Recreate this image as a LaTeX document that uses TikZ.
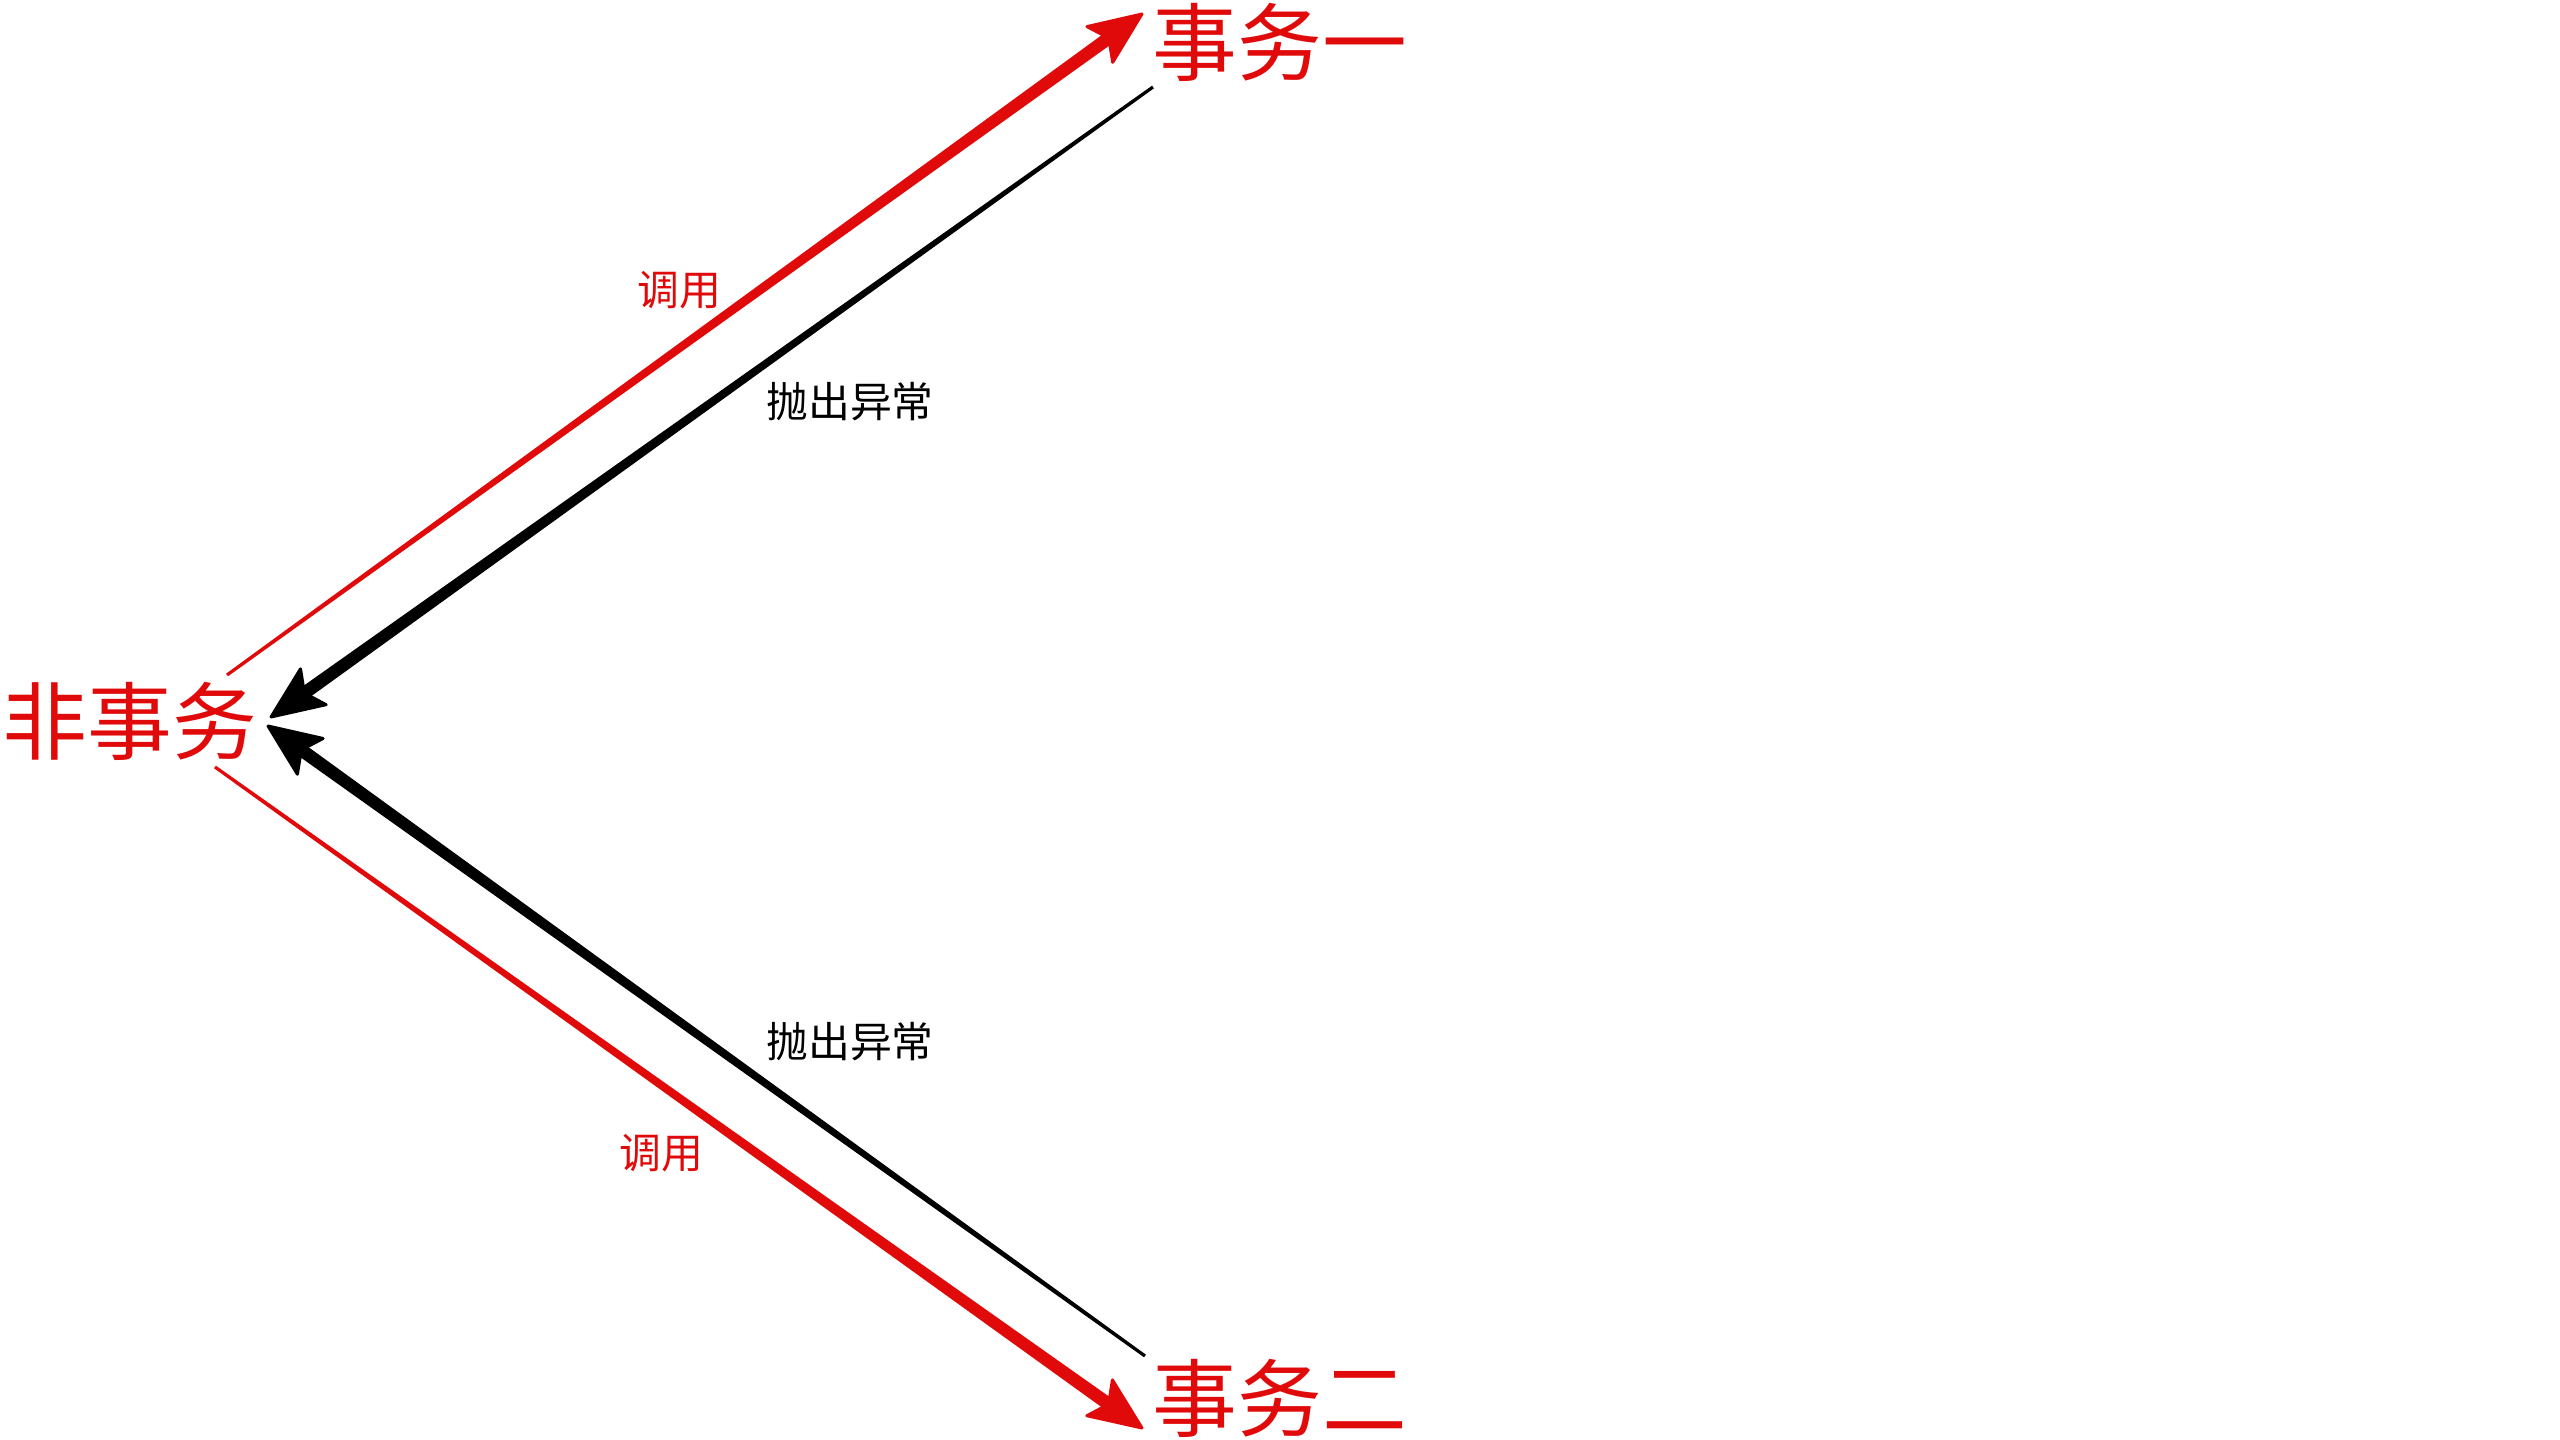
\documentclass[tikz,border=0pt]{standalone}
\usepackage{fontspec}
\newfontfamily\cjk{Noto Sans CJK SC}
\usetikzlibrary{calc}
\definecolor{myred}{RGB}{224,10,10}
\tikzset{
  bigtext/.style={inner sep=0pt, font=\cjk\fontsize{24.1}{26}\selectfont},
  smalltext/.style={inner sep=0pt, font=\cjk\fontsize{11.9}{13}\selectfont},
}
% tapered arrow: #1 start, #2 end, #3 colour
\newcommand\tarrow[3]{%
  \fill[#3] ($(#1)!0.016cm!90:(#2)$)
     -- ($($(#2)!0.35cm!(#1)$)!0.065cm!-90:(#1)$)
     -- ($($(#2)!0.35cm!(#1)$)!0.065cm!90:(#1)$)
     -- ($(#1)!0.016cm!-90:(#2)$) -- cycle;
  \filldraw[#3, line width=0.03cm, line join=round]
     (#2) -- ($($(#2)!0.52cm!(#1)$)!0.22cm!90:(#2)$)
     -- ($(#2)!0.41cm!(#1)$)
     -- ($($(#2)!0.52cm!(#1)$)!0.22cm!-90:(#2)$) -- cycle;
}
\begin{document}
\begin{tikzpicture}[x=0.01cm,y=-0.01cm]
\useasboundingbox (0,0) rectangle (2560,1440);
\node[bigtext, text=myred] (t1) at (1280,42) {事务一};
\node[bigtext, text=myred] (nt) at (130,721) {非事务};
\node[bigtext, text=myred] (t2) at (1280,1398) {事务二};
\node[smalltext, text=myred] (c1) at (679,290) {调用};
\node[smalltext] (e1) at (850,402) {抛出异常};
\node[smalltext] (e2) at (850,1042) {抛出异常};
\node[smalltext, text=myred] (c2) at (661,1153) {调用};
\coordinate (r1s) at (227,675);
\coordinate (r1e) at (1142,14);
\coordinate (b1s) at (1153,87);
\coordinate (b1e) at (271,717);
\coordinate (b2s) at (1145,1356);
\coordinate (b2e) at (268,726);
\coordinate (r2s) at (215,767);
\coordinate (r2e) at (1142,1428);
\tarrow{r1s}{r1e}{myred}
\tarrow{b1s}{b1e}{black}
\tarrow{b2s}{b2e}{black}
\tarrow{r2s}{r2e}{myred}
\end{tikzpicture}
\end{document}
